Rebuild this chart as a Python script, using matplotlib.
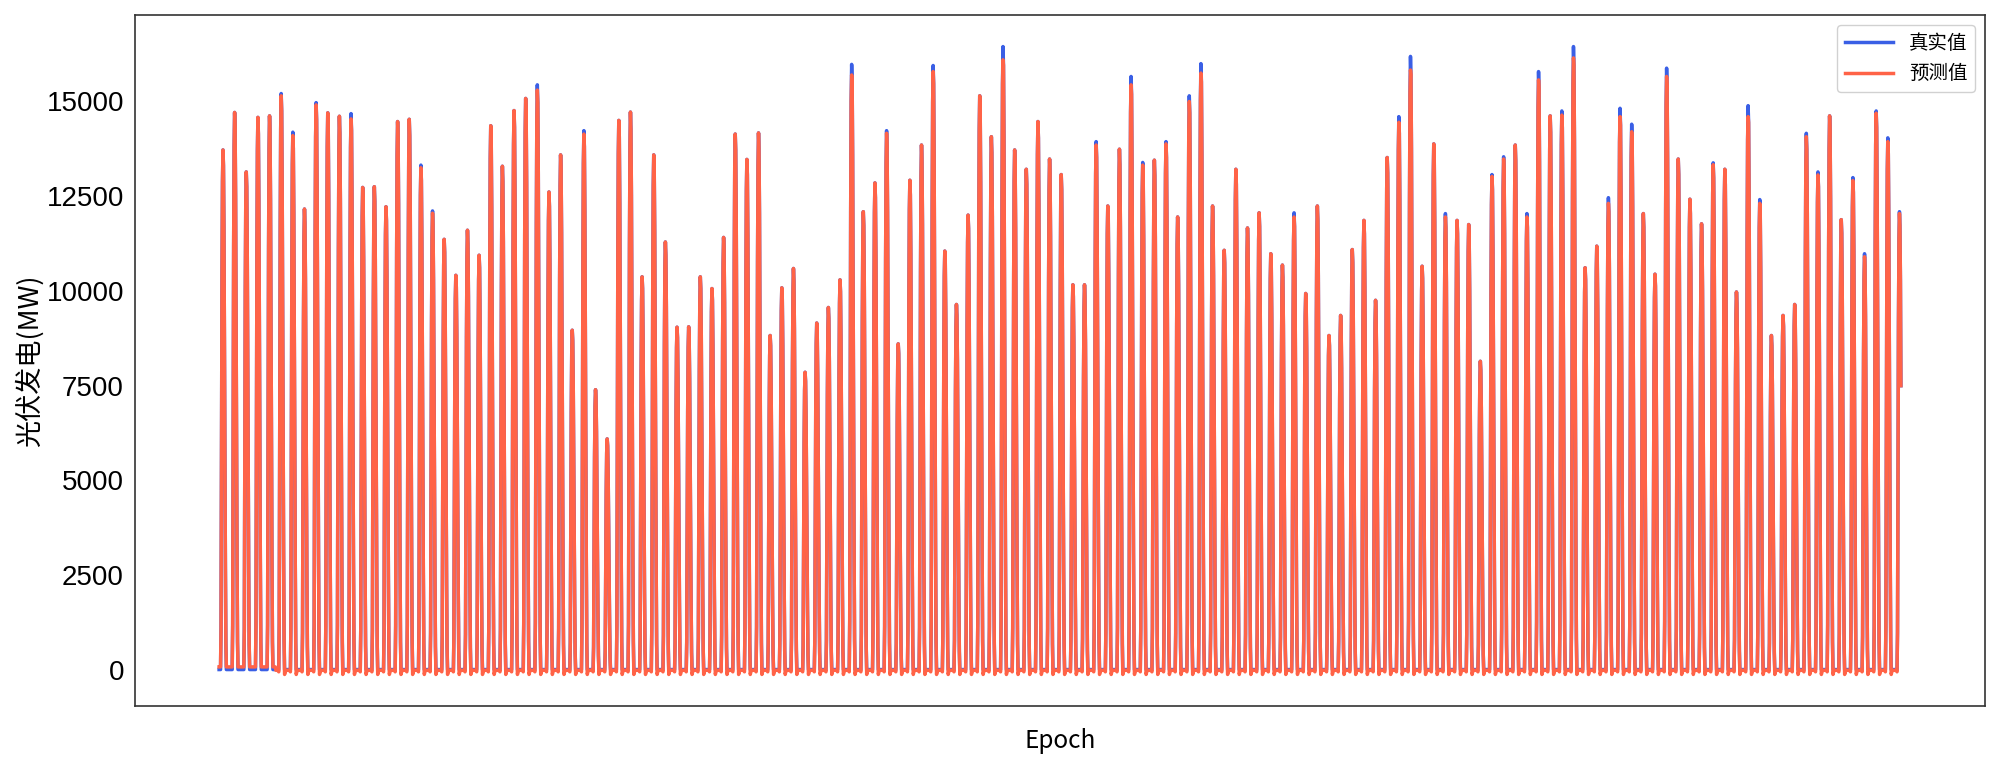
"""PV generation: true vs predicted (hourly), one spike per day."""

###########
# Imports #
###########
import numpy as np
import matplotlib
matplotlib.use("Agg")
import matplotlib.pyplot as plt


########
# Data #
########
# Daily peak of the true series (MW)
true_peaks = [
    13720, 14710, 13140, 14580, 14620, 15210, 14190, 12160, 14970, 14700,
    14610, 14680, 12730, 12750, 12220, 14470, 14530, 13320, 12110, 11360,
    10410, 11600, 10940, 14360, 13290, 14760, 15080, 15440, 12610, 13590,
    8960, 14230, 7390, 6090, 14500, 14720, 10370, 13590, 11290, 9040,
    9050, 10370, 10060, 11410, 14140, 13470, 14170, 8820, 10080, 10590,
    7850, 9150, 9560, 10290, 15980, 12090, 12850, 14230, 8600, 12920,
    13850, 15950, 11050, 9640, 12000, 15150, 14070, 16450, 13720, 13210,
    14470, 13480, 13070, 10160, 10160, 13940, 12240, 13740, 15660, 13390,
    13450, 13940, 11950, 15150, 16000, 12240, 11070, 13210, 11660, 12060,
    10980, 10680, 12060, 9930, 12240, 8820, 9350, 11090, 11860, 9750,
    13520, 14600, 16190, 10650, 13880, 12040, 11860, 11750, 8140, 13070,
    13540, 13850, 12040, 15790, 14620, 14750, 16450, 10610, 11180, 12460,
    14820, 14400, 12040, 10440, 15880, 13480, 12420, 11770, 13380, 13210,
    9970, 14890, 12410, 8820, 9350, 9640, 14160, 13140, 14620, 11880,
    12990, 10980, 14750, 14040, 12090,
]

# Daily peak of the predicted series (MW)
pred_peaks = [
    13720, 14710, 13140, 14580, 14620, 15150, 14100, 12160, 14910, 14700,
    14610, 14540, 12730, 12750, 12220, 14470, 14530, 13250, 12050, 11360,
    10410, 11600, 10940, 14360, 13290, 14760, 15080, 15300, 12610, 13590,
    8960, 14140, 7390, 6090, 14500, 14720, 10370, 13590, 11290, 9040,
    9050, 10370, 10060, 11410, 14140, 13470, 14170, 8820, 10080, 10590,
    7850, 9150, 9560, 10290, 15700, 12090, 12850, 14160, 8600, 12920,
    13850, 15790, 11050, 9640, 12000, 15150, 14070, 16100, 13720, 13210,
    14470, 13480, 13070, 10160, 10160, 13850, 12240, 13740, 15440, 13320,
    13450, 13880, 11950, 15000, 15750, 12240, 11070, 13210, 11660, 12060,
    10980, 10680, 11950, 9930, 12240, 8820, 9350, 11090, 11860, 9750,
    13520, 14450, 15830, 10650, 13880, 11950, 11860, 11750, 8140, 13020,
    13480, 13850, 11950, 15570, 14620, 14640, 16150, 10610, 11180, 12310,
    14600, 14200, 12040, 10440, 15660, 13480, 12420, 11770, 13330, 13210,
    9970, 14600, 12310, 8820, 9350, 9640, 14070, 13060, 14620, 11880,
    12910, 10900, 14690, 13940, 12040,
]

# Hourly shape of a day, as a fraction of the day's peak (00:00 .. 23:00)
day_shape = [0, 0, 0, 0, 0, 0, 0, 0.08, 0.4, 0.76, 0.94, 1.0,
             0.97, 0.85, 0.62, 0.42, 0.2, 0.05, 0, 0, 0, 0, 0, 0]

# Night-time offset of the prediction (MW), by hour
pred_night = [-20, -20, -20, -20, -20, -30, -60, 0, 0, 0, 0, 0,
              0, 0, 0, 0, 0, 0, -130, -70, -30, -20, -20, -20]
early_night = 70      # first few days the model sits slightly above zero
early_days = 5

start_hour = 3        # series begins at 03:00 on the first day
end_hour = 14         # and stops at 14:00 on the last day


####################
# Build the series #
####################
shape = np.array(day_shape)
true_series = []
pred_series = []
for d, (tp, pp) in enumerate(zip(true_peaks, pred_peaks)):
    t_day = tp * shape
    p_day = tp * shape
    p_day[shape == 1.0] = pp
    night = shape == 0
    if d < early_days:
        p_day[night] = early_night
    else:
        p_day[night] = np.array(pred_night)[night]
    true_series.append(t_day)
    pred_series.append(p_day)

true_series = np.concatenate(true_series)
pred_series = np.concatenate(pred_series)
stop = (len(true_peaks) - 1) * 24 + end_hour + 1
true_series = true_series[start_hour:stop]
pred_series = pred_series[start_hour:stop]
x = np.arange(len(true_series))


############
# Plotting #
############
cjk = ['Noto Sans CJK SC', 'DejaVu Sans']

fig = plt.figure(figsize=(20, 7.59), dpi=100)
ax = fig.add_axes([0.0675, 0.07, 0.925, 0.91])

ax.plot(x, true_series, color='#3a5fe5', lw=2.5, label='真实值')
ax.plot(x, pred_series, color='#ff6347', lw=2.5, label='预测值')

ax.set_xticks([])
ax.set_yticks([0, 2500, 5000, 7500, 10000, 12500, 15000])
ax.tick_params(axis='y', length=0, labelsize=20, pad=8)
for lab in ax.get_yticklabels():
    lab.set_fontfamily('Liberation Sans')
for sp in ax.spines.values():
    sp.set_color('#333333')
    sp.set_linewidth(1.2)

ax.set_ylabel('光伏发电(MW)', fontsize=19.5, family=cjk, labelpad=2)
ax.set_xlabel('Epoch', fontsize=17.5, family=cjk, labelpad=16)

ax.legend(loc='upper right', prop={'family': cjk, 'size': 14},
          framealpha=0.9, edgecolor='#cccccc', handlelength=2.5)

fig.savefig('out.png', dpi=100)
